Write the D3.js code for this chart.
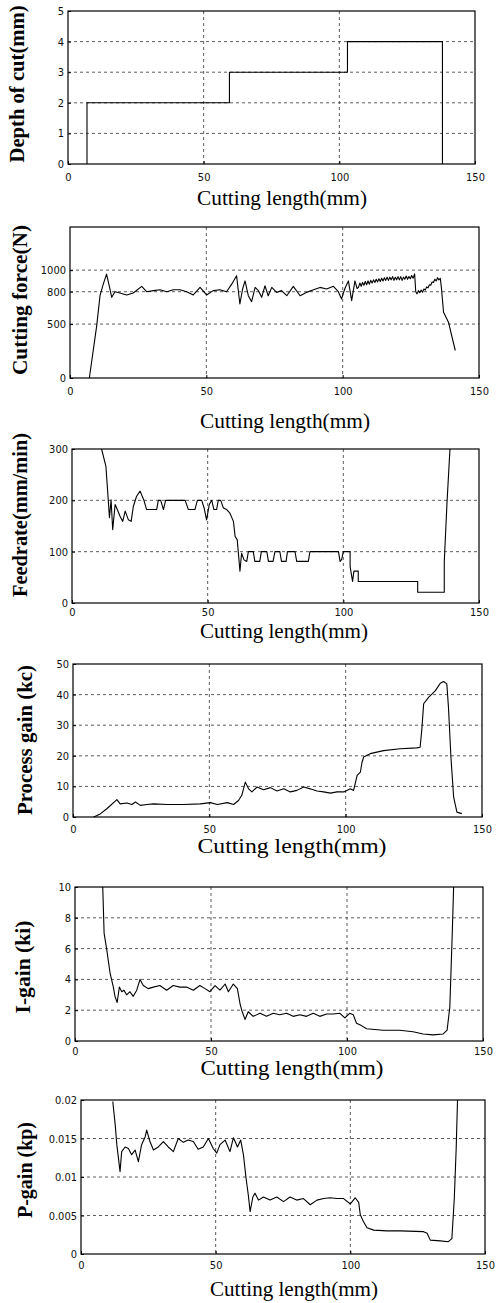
<!DOCTYPE html>
<html>
<head>
<meta charset="utf-8">
<script src="https://cdn.jsdelivr.net/npm/d3@7"></script>
<style>
  body { margin: 0; background: #fff; }
  svg { display: block; }
  .axis text { font-family: 'Liberation Sans Narrow', 'Arial Narrow', 'DejaVu Sans Condensed', sans-serif; font-size: 11px; fill: #111; }
  .axis line { stroke: #000; }
  .x-title { font-family: 'Liberation Serif', 'Times New Roman', serif; font-size: 21px; fill: #000; }
  .y-title { font-family: 'Liberation Serif', 'Times New Roman', serif; font-size: 20px; font-weight: bold; fill: #000; }
  .grid { stroke: #333; stroke-width: 0.8; stroke-dasharray: 3,3; }
  .trace { fill: none; stroke: #000; stroke-width: 1.1; stroke-linejoin: round; }
</style>
</head>
<body>
<svg id="chart" width="497" height="1303"></svg>
<script>
// shared x axis
const xTicks = [0, 50, 100, 150];
const xGrid = [50, 100];

// y tick values per panel
const depthTicks = [0, 1, 2, 3, 4, 5];
const forceTicks = [0, 500, 800, 1000];
const feedTicks = [0, 100, 200, 300];
const kcTicks = [0, 10, 20, 30, 40, 50];
const kiTicks = [0, 2, 4, 6, 8, 10];
const kpTicks = [0, 0.005, 0.01, 0.015, 0.02];

// series: [cutting length (mm), value]
const depthData = [[7, 0], [7, 2], [59.5, 2], [59.5, 3], [103, 3], [103, 4], [138, 4], [138, 0]];

const forceData = [
  [7.1, 0], [9.8, 486], [11, 763], [12.2, 870], [13.4, 963], [14.4, 855], [15.3, 748], [16.5, 800],
  [18.3, 788], [20.8, 770], [23.2, 788], [26.3, 850], [28.1, 800], [30.6, 810], [33, 818], [35.5, 800],
  [37.9, 818], [40.3, 818], [42.8, 800], [45.2, 770], [47.7, 840], [50.1, 770], [52.5, 810], [55, 818],
  [57.4, 800], [59.3, 870], [61.1, 948], [62.3, 686], [63.3, 825], [64.2, 900], [65.4, 763], [66.6, 708],
  [67.9, 840], [69.1, 810], [70.3, 748], [71.5, 855], [72.7, 763], [74, 840], [75.8, 794], [77.6, 810],
  [79.5, 763], [81.9, 850], [84.4, 763], [86.8, 794], [89.3, 818], [91.7, 840], [94.1, 825], [96.6, 850],
  [98.4, 800], [99.6, 733], [100.8, 830], [102.1, 900], [103.3, 717], [104.5, 900], [105.3, 830],
  [105.8, 840], [106.3, 880], [106.8, 850], [107.3, 885], [107.8, 860], [108.3, 895], [108.8, 865],
  [109.3, 900], [109.8, 870], [110.3, 905], [110.8, 880], [111.3, 910], [111.8, 885], [112.3, 915],
  [112.8, 890], [113.3, 920], [113.8, 895], [114.3, 925], [114.8, 900], [115.3, 930], [115.8, 905],
  [116.3, 935], [116.8, 905], [117.3, 935], [117.8, 910], [118.3, 940], [118.8, 905], [119.3, 935],
  [119.8, 910], [120.3, 940], [120.8, 910], [121.3, 940], [121.8, 905], [122.3, 935], [122.8, 915],
  [123.3, 945], [123.8, 915], [124.3, 940], [124.8, 920], [125.3, 950], [125.8, 925], [126.4, 965],
  [126.8, 800], [127.3, 780], [127.8, 810], [128.3, 790], [128.8, 815], [129.3, 795], [129.8, 825],
  [130.3, 815], [130.8, 845], [131.3, 835], [131.8, 865], [132.3, 860], [132.8, 890], [133.3, 885],
  [133.8, 915], [134.3, 900], [134.8, 930], [135.3, 910], [135.8, 925], [136.2, 840], [137, 609],
  [138.8, 517], [141.3, 255]
];

const feedData = [
  [10.9, 300], [12.5, 266], [13.4, 198], [13.8, 166], [14.4, 201], [15, 143], [15.9, 192], [16.7, 182],
  [17.7, 169], [18.7, 159], [19.6, 179], [20.8, 162], [21.8, 159], [22.6, 188], [23.8, 208], [25.1, 218],
  [26.5, 200], [27.5, 182], [31.2, 182], [31.8, 200], [32.7, 200], [33.7, 182], [34.5, 200], [41.7, 200],
  [42.9, 182], [45.3, 182], [46.2, 200], [47.8, 200], [48.7, 185], [49.6, 162], [50.6, 192], [51.5, 200],
  [52.3, 182], [53.3, 182], [53.9, 200], [54.8, 200], [55.8, 185], [57, 182], [58.2, 175], [59.5, 159],
  [60.1, 130], [60.9, 123], [61.9, 62], [62.5, 97], [63.4, 84], [64.4, 81], [65, 100], [66.8, 100],
  [67.4, 81], [69.2, 81], [69.8, 100], [71.8, 100], [72.4, 81], [74.1, 81], [74.8, 100], [76.6, 100],
  [77.2, 81], [78.9, 81], [79.4, 100], [82.2, 100], [82.8, 81], [87.1, 81], [87.7, 100], [98.2, 100],
  [98.8, 81], [99.4, 85], [100, 100], [102.5, 100], [102.5, 71], [103.4, 42], [103.9, 62], [105.5, 62],
  [105.5, 42], [127.4, 42], [127.4, 21], [137.2, 21], [137.2, 80], [138.2, 195], [139.3, 300]
];

const kcData = [
  [7.6, 0], [10, 1], [12.4, 2.7], [16.1, 5.7], [17.3, 4.3], [19.8, 4.6], [21.6, 4.1], [22.9, 4.9],
  [24.7, 3.8], [27.1, 4.1], [29.6, 4.3], [34.5, 4.1], [40.6, 4.1], [46.7, 4.3], [50.4, 4.7], [52.9, 4.1],
  [56.6, 4.7], [58.9, 4.1], [60.7, 5.4], [61.9, 7.1], [63.2, 11.4], [64.4, 9.2], [65.6, 8.2], [67.5, 9.8],
  [69.9, 8.9], [72.4, 9.6], [74.8, 8.5], [77.3, 9.2], [79.7, 8.2], [82.1, 8.7], [84.6, 9.8], [87, 9.2],
  [89.5, 8.5], [91.9, 8.2], [94.4, 7.8], [96.8, 8.2], [99.3, 8.2], [101.7, 9.2], [102.9, 8.7], [103.5, 10.9],
  [104.2, 13.6], [105.4, 14.7], [106, 17.9], [106.6, 19.6], [109, 20.7], [113.9, 21.7], [120, 22.3],
  [126.1, 22.6], [127.3, 22.8], [127.9, 28.3], [128.6, 37], [130.4, 39.1], [132.9, 41.3], [134.7, 43.7],
  [135.9, 44.3], [137.1, 43.5], [137.7, 35.9], [138.6, 19.6], [139.6, 6.5], [140.8, 1.6], [142.6, 1.1]
];

const kiData = [
  [10.2, 10], [10.7, 7], [11.7, 5.9], [12.9, 4.4], [14.1, 3.5], [14.7, 2.9], [15.5, 2.5], [16.3, 3.5],
  [17.2, 3.2], [18, 3.3], [19, 3.0], [20.2, 3.2], [21.4, 2.9], [22.7, 3.3], [23.9, 4.0], [25.1, 3.6],
  [26.9, 3.4], [28.8, 3.5], [31.2, 3.6], [33.7, 3.3], [36.1, 3.6], [38.6, 3.5], [41, 3.5], [43.5, 3.3],
  [45.9, 3.6], [47.8, 3.4], [49.6, 3.2], [51.5, 3.6], [53.3, 3.3], [55.2, 3.7], [56.4, 3.2], [58.2, 3.7],
  [59.7, 3.4], [60.7, 2.4], [61.3, 2.0], [62.5, 1.4], [63.7, 1.9], [65.5, 1.6], [68, 1.8], [70.4, 1.6],
  [72.9, 1.8], [75.3, 1.7], [77.8, 1.8], [80.2, 1.6], [82.7, 1.7], [85.1, 1.6], [87.6, 1.8], [90, 1.6],
  [92.5, 1.75], [94.9, 1.75], [97.4, 1.8], [99.2, 1.5], [101, 1.8], [102.3, 1.7], [103.5, 1.15],
  [105.3, 1.0], [107.2, 0.8], [113.3, 0.7], [119.4, 0.7], [124.3, 0.6], [128, 0.45], [131.6, 0.4],
  [135.3, 0.45], [136.8, 0.7], [137.8, 2.2], [138.7, 7], [139.2, 10]
];

const kpData = [
  [11.8, 0.0198], [12.7, 0.0168], [13.3, 0.0142], [14.5, 0.0107], [15.1, 0.0133], [16.4, 0.0139],
  [17.6, 0.0137], [18.8, 0.0129], [20.1, 0.0135], [21.3, 0.012], [22.5, 0.0142], [23.8, 0.0152],
  [24.4, 0.0161], [25.6, 0.0146], [26.9, 0.0135], [28.7, 0.0139], [30.6, 0.0146], [32.4, 0.0139],
  [34.3, 0.0133], [36.1, 0.015], [38, 0.0145], [39.8, 0.0148], [41.7, 0.0146], [43.5, 0.0136],
  [45.4, 0.0139], [47.3, 0.015], [49.1, 0.0137], [50.4, 0.0131], [51.6, 0.0142], [53.5, 0.0148],
  [55.3, 0.0133], [56.6, 0.0151], [58.1, 0.0139], [59.3, 0.0148], [60.3, 0.0129], [61.3, 0.0098],
  [62.1, 0.0077], [62.8, 0.0055], [63.8, 0.0074], [64.6, 0.0079], [65.9, 0.007], [67.7, 0.0074],
  [70.2, 0.007], [72.7, 0.0074], [75.2, 0.0068], [77.6, 0.0074], [80.1, 0.007], [82.6, 0.0072],
  [85.1, 0.0064], [87.6, 0.007], [90.1, 0.0072], [92.5, 0.0073], [95, 0.0072], [97.5, 0.0072],
  [100, 0.0065], [101.8, 0.0073], [103.1, 0.0067], [103.7, 0.0051], [104.9, 0.0042], [106.2, 0.0034],
  [108.7, 0.0031], [113.6, 0.003], [118.6, 0.003], [127.2, 0.0029], [128.5, 0.0027], [129.7, 0.0018],
  [133.4, 0.0017], [136.4, 0.0016], [137.7, 0.002], [138.6, 0.0072], [139.3, 0.0137], [139.8, 0.02]
];

// panel layout (pixel boxes)
const panels = [
  { data: depthData, ticks: depthTicks, yMax: 5, box: [68, 475, 11, 164], xPad: 9,
    yTitle: 'Depth of cut(mm)', yT: [17, 84, 157], xT: [282, 205, 170] },
  { data: forceData, ticks: forceTicks, yMax: 1400, box: [70, 479, 227, 378], xPad: 9,
    yTitle: 'Cutting force(N)', yT: [20, 300, 150], xT: [285, 428, 170] },
  { data: feedData, ticks: feedTicks, yMax: 300, box: [72, 479, 449, 603], xPad: 5,
    yTitle: 'Feedrate(mm/min)', yT: [20, 515, 164], xT: [284, 638, 168] },
  { data: kcData, ticks: kcTicks, yMax: 50, box: [73, 482, 664, 817], xPad: 8,
    yTitle: 'Process gain (kc)', yT: [25, 740, 150], xT: [292, 853, 189] },
  { data: kiData, ticks: kiTicks, yMax: 10, box: [75, 483, 887, 1041], xPad: 6,
    yTitle: 'I-gain (ki)', yT: [23, 967, 93], xT: [292, 1075, 183] },
  { data: kpData, ticks: kpTicks, yMax: 0.02, box: [81, 485, 1100, 1254], xPad: 7,
    yTitle: 'P-gain (kp)', yT: [25, 1170, 96], xT: [294, 1296, 168] }
];

const svg = d3.select('#chart');

panels.forEach(p => {
  const [left, right, top, bottom] = p.box;
  const x = d3.scaleLinear().domain([0, 150]).range([left, right]);
  const y = d3.scaleLinear().domain([0, p.yMax]).range([bottom, top]);
  const g = svg.append('g');

  // dotted grid
  g.selectAll('.hgrid')
    .data(p.ticks.filter(t => t > 0 && t < p.yMax))
    .enter().append('line')
    .attr('class', 'grid')
    .attr('x1', left).attr('x2', right)
    .attr('y1', d => y(d)).attr('y2', d => y(d));
  g.selectAll('.vgrid')
    .data(xGrid)
    .enter().append('line')
    .attr('class', 'grid')
    .attr('x1', d => x(d)).attr('x2', d => x(d))
    .attr('y1', top).attr('y2', bottom);

  // frame
  g.append('rect')
    .attr('x', left).attr('y', top)
    .attr('width', right - left).attr('height', bottom - top)
    .attr('fill', 'none').attr('stroke', '#000').attr('stroke-width', 1.2);

  const xAxis = d3.axisBottom(x).tickValues(xTicks).tickSize(-3).tickPadding(p.xPad)
    .tickFormat(d3.format('d'));
  g.append('g')
    .attr('class', 'axis')
    .attr('transform', `translate(0, ${ bottom })`)
    .call(xAxis)
    .call(a => a.select('.domain').remove());

  const yAxis = d3.axisLeft(y).tickValues(p.ticks).tickSize(-3).tickPadding(4)
    .tickFormat(d => String(d));
  g.append('g')
    .attr('class', 'axis')
    .attr('transform', `translate(${ left }, 0)`)
    .call(yAxis)
    .call(a => a.select('.domain').remove());

  // trace
  const line = d3.line().x(d => x(d[0])).y(d => y(d[1]));
  g.append('path')
    .datum(p.data)
    .attr('class', 'trace')
    .attr('d', line);

  // titles
  g.append('text')
    .attr('class', 'x-title')
    .attr('x', p.xT[0]).attr('y', p.xT[1])
    .attr('text-anchor', 'middle')
    .attr('textLength', p.xT[2])
    .attr('lengthAdjust', 'spacingAndGlyphs')
    .text('Cutting length(mm)');

  g.append('text')
    .attr('class', 'y-title')
    .attr('transform', `translate(${ p.yT[0] + 7 }, ${ p.yT[1] }) rotate(-90)`)
    .attr('text-anchor', 'middle')
    .attr('textLength', p.yT[2])
    .attr('lengthAdjust', 'spacingAndGlyphs')
    .text(p.yTitle);
});
</script>
</body>
</html>
